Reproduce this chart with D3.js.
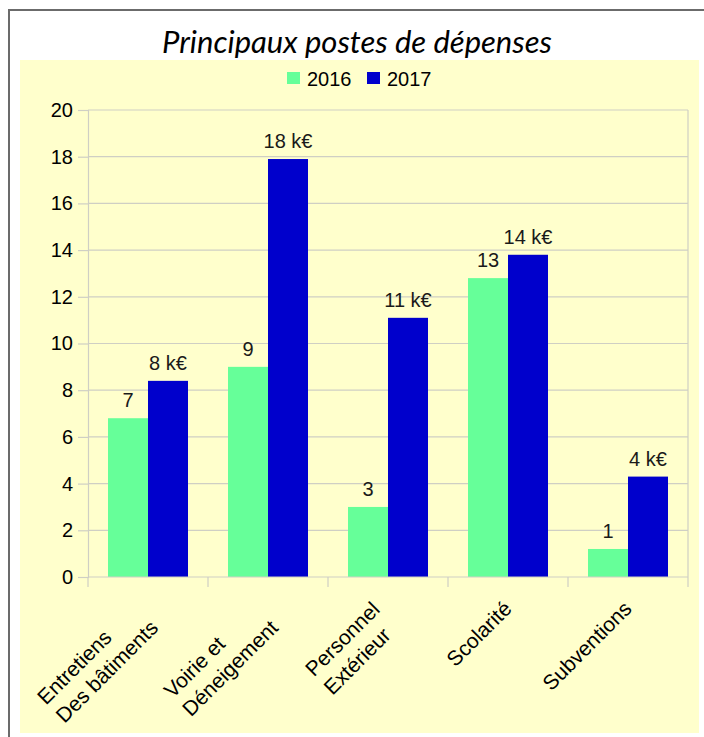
<!DOCTYPE html>
<html>
<head>
<meta charset="utf-8">
<script src="https://cdn.jsdelivr.net/npm/d3@7/dist/d3.min.js"></script>
<style>
  html, body { margin: 0; padding: 0; background: #ffffff; }
  svg { display: block; }
</style>
</head>
<body>
<svg id="chart" width="704" height="737"></svg>
<script>
// ---- data ----
const categories = [
  ["Entretiens", "Des bâtiments"],
  ["Voirie et", "Déneigement"],
  ["Personnel", "Extérieur"],
  ["Scolarité"],
  ["Subventions"]
];
const seriesNames = ["2016", "2017"];
const seriesColors = ["#66ff99", "#0000cc"];
const values2016 = [6.8, 9.0, 3.0, 12.8, 1.2];
const values2017 = [8.4, 17.9, 11.1, 13.8, 4.3];
const labels2016 = ["7", "9", "3", "13", "1"];
const labels2017 = ["8 k€", "18 k€", "11 k€", "14 k€", "4 k€"];
const yTicks = [0, 2, 4, 6, 8, 10, 12, 14, 16, 18, 20];
const titleText = "Principaux postes de dépenses";

const series = [
  { name: seriesNames[0], color: seriesColors[0], values: values2016, labels: labels2016 },
  { name: seriesNames[1], color: seriesColors[1], values: values2017, labels: labels2017 }
];
const catKeys = categories.map(c => c.join(" "));

const svg = d3.select("#chart");
const FONT = "'Liberation Sans', Arial, sans-serif";

// background frame & wall
svg.append("rect").attr("x", 9).attr("y", 10).attr("width", 760).attr("height", 780)
  .attr("fill", "#ffffff").attr("stroke", "#6b6b6b").attr("stroke-width", 2);
svg.append("rect").attr("x", 20).attr("y", 60).attr("width", 679).attr("height", 673)
  .attr("fill", "#ffffcc");

// scales
const y = d3.scaleLinear().domain([0, 20]).range([577, 110]);
const x0 = d3.scaleBand().domain(catKeys).range([88, 688]).paddingInner(1/3).paddingOuter(1/6);
const x1 = d3.scaleBand().domain(seriesNames).range([0, x0.bandwidth()]).padding(0);

// grid
const gridColor = "#cfcfc4";
svg.append("g").selectAll("line").data(yTicks.filter(t => t > 0)).join("line")
  .attr("x1", x0.range()[0]).attr("x2", x0.range()[1])
  .attr("y1", d => y(d)).attr("y2", d => y(d))
  .attr("stroke", gridColor).attr("stroke-width", 1.2);
// right wall edge
svg.append("line").attr("x1", x0.range()[1]).attr("x2", x0.range()[1])
  .attr("y1", y(20)).attr("y2", y(0)).attr("stroke", gridColor).attr("stroke-width", 1.2);

// y axis
const yAxis = svg.append("g").attr("transform", `translate(${x0.range()[0]},0)`)
  .call(d3.axisLeft(y).tickValues(yTicks).tickSize(10).tickPadding(5).tickFormat(d3.format("d")));
yAxis.select(".domain").attr("stroke", gridColor).attr("stroke-width", 1.2);
yAxis.selectAll(".tick line").attr("stroke", gridColor).attr("stroke-width", 1.2);
yAxis.selectAll(".tick text").attr("font-family", FONT).attr("font-size", 20).attr("fill", "#000");

// bars
const groups = svg.append("g").selectAll("g").data(catKeys).join("g")
  .attr("transform", d => `translate(${x0(d)},0)`);
groups.selectAll("rect").data((d, i) => series.map(s => ({ s, v: s.values[i], l: s.labels[i] })))
  .join("rect")
  .attr("x", d => x1(d.s.name)).attr("width", x1.bandwidth())
  .attr("y", d => y(d.v)).attr("height", d => y(0) - y(d.v))
  .attr("fill", d => d.s.color);
groups.selectAll("text").data((d, i) => series.map(s => ({ s, v: s.values[i], l: s.labels[i] })))
  .join("text")
  .attr("x", d => x1(d.s.name) + x1.bandwidth() / 2)
  .attr("y", d => y(d.v) - 11)
  .attr("text-anchor", "middle")
  .attr("font-family", FONT).attr("font-size", 20).attr("fill", "#1a1a1a")
  .text(d => d.l);

// x axis baseline and ticks at category boundaries
svg.append("line").attr("x1", x0.range()[0]).attr("x2", x0.range()[1])
  .attr("y1", y(0)).attr("y2", y(0)).attr("stroke", gridColor).attr("stroke-width", 1.2);
const bounds = d3.range(catKeys.length + 1).map(i => x0.range()[0] + i * x0.step());
svg.append("g").selectAll("line").data(bounds).join("line")
  .attr("x1", d => d).attr("x2", d => d)
  .attr("y1", y(0)).attr("y2", y(0) + 10)
  .attr("stroke", gridColor).attr("stroke-width", 1.2);

// x labels rotated -45 (multi-line blocks, lines left-aligned)
const lineH = 26;
const xl = svg.append("g").selectAll("g").data(categories).join("g")
  .attr("transform", (d, i) => `translate(${x0(catKeys[i]) + x0.bandwidth() / 2 + 5},${y(0) + 33}) rotate(-45)`);
xl.each(function(lines) {
  const g = d3.select(this);
  const n = lines.length;
  const t = g.append("text").attr("font-family", FONT).attr("font-size", 21).attr("fill", "#000");
  const spans = lines.map((ln, k) => t.append("tspan").attr("y", k * lineH - (n - 1) * 8).text(ln));
  const maxW = d3.max(spans, s => s.node().getComputedTextLength());
  spans.forEach(s => s.attr("x", -maxW - (n - 1) * 9));
});

// title
const title = svg.append("text").attr("x", 357).attr("y", 53).attr("text-anchor", "middle")
  .attr("font-family", "Lato, 'Open Sans', sans-serif").attr("font-style", "italic")
  .attr("font-size", 28).attr("fill", "#000").text(titleText);
const tw = title.node().getComputedTextLength();
title.attr("font-size", 28 * 390 / tw);

// legend
const leg = svg.append("g");
const legX = [287, 367];
series.forEach((s, i) => {
  leg.append("rect").attr("x", legX[i]).attr("y", 72).attr("width", 13).attr("height", 12).attr("fill", s.color);
  leg.append("text").attr("x", legX[i] + 20).attr("y", 86)
    .attr("font-family", FONT).attr("font-size", 20).attr("fill", "#000").text(s.name);
});
</script>
</body>
</html>
